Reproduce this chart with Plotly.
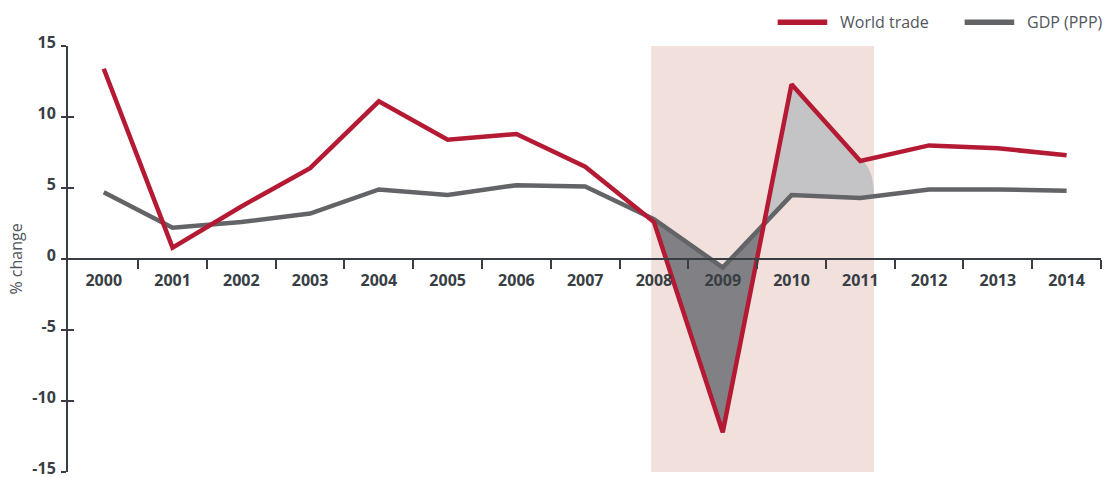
import numpy as np
import plotly.graph_objects as go

# Annual growth, % change
years = list(range(2000, 2015))
world_trade = [13.4, 0.8, 3.7, 6.4, 11.1, 8.4, 8.8, 6.5, 2.6, -12.2, 12.3, 6.9, 8.0, 7.8, 7.3]
gdp_ppp = [4.7, 2.2, 2.6, 3.2, 4.9, 4.5, 5.2, 5.1, 2.8, -0.6, 4.5, 4.3, 4.9, 4.9, 4.8]
y_ticks = [15, 10, 5, 0, -5, -10, -15]
y_tick_text = ["15", "10", "5", "0", "-5", "-10", "-15"]
crisis_span = (2007.96, 2011.2)

RED = "#b41a33"
GREY = "#636467"
AXIS = "#383e44"
TEXT = "#51565c"

wt = np.array(world_trade)
gd = np.array(gdp_ppp)
yr = np.array(years, dtype=float)

# crossing of the two series between 2009 and 2010
i9, i10, i11 = years.index(2009), years.index(2010), years.index(2011)
d0 = wt[i9] - gd[i9]
d1 = wt[i10] - gd[i10]
t = d0 / (d0 - d1)
x_cross = yr[i9] + t
y_cross = gd[i9] + t * (gd[i10] - gd[i9])

# downturn: trade below GDP from 2008 to the crossing
i8 = years.index(2008)
dark_x = [yr[i8], yr[i9], x_cross, yr[i9], yr[i8]]
dark_y = [gd[i8], gd[i9], y_cross, wt[i9], wt[i8]]

# rebound: trade above GDP from the crossing, closing with a rounded edge
x_end = crisis_span[1]
g_end = gd[i11] + (x_end - yr[i11]) * (gd[i11 + 1] - gd[i11])
theta = np.linspace(0, np.pi / 2, 20)
arc_x = yr[i11] + (x_end - yr[i11]) * np.sin(theta)
arc_y = g_end + (wt[i11] - g_end) * np.cos(theta)
light_x = [x_cross, yr[i10], yr[i11]] + list(arc_x) + [yr[i11], yr[i10], x_cross]
light_y = [y_cross, wt[i10], wt[i11]] + list(arc_y) + [gd[i11], gd[i10], y_cross]

fig = go.Figure()
fig.add_trace(go.Scatter(x=dark_x, y=dark_y, fill="toself", fillcolor="#818185",
                         line=dict(width=0), mode="lines", showlegend=False, hoverinfo="skip"))
fig.add_trace(go.Scatter(x=light_x, y=light_y, fill="toself", fillcolor="#c4c3c6",
                         line=dict(width=0), mode="lines", showlegend=False, hoverinfo="skip"))
fig.add_trace(go.Scatter(x=years, y=gdp_ppp, mode="lines", name="GDP (PPP)",
                         line=dict(color=GREY, width=4.5), showlegend=False))
fig.add_trace(go.Scatter(x=years, y=world_trade, mode="lines", name="World trade",
                         line=dict(color=RED, width=4.5), showlegend=False))
# invisible trace that carries the inner half of the crossing y ticks
fig.add_trace(go.Scatter(x=[years[0]], y=[0], yaxis="y2", mode="markers",
                         marker=dict(opacity=0), showlegend=False, hoverinfo="skip"))

fig.add_shape(type="rect", xref="x", yref="y", x0=crisis_span[0], x1=crisis_span[1],
              y0=-15, y1=15, fillcolor="#f2e0dd", line=dict(width=0), layer="below")

# legend: line sample + label, laid out in paper coordinates above the plot
legend_items = [("World trade", RED, 0.687), ("GDP (PPP)", GREY, 0.868)]
for label, color, x0 in legend_items:
    fig.add_shape(type="line", xref="paper", yref="paper", x0=x0, x1=x0 + 0.048,
                  y0=1.056, y1=1.056, line=dict(color=color, width=5.5))
    fig.add_annotation(xref="paper", yref="paper", x=x0 + 0.058, y=1.056,
                       xanchor="left", yanchor="middle", text=label, showarrow=False,
                       font=dict(size=16, color=TEXT, family="Open Sans"))

fig.update_layout(
    width=1107, height=477,
    margin=dict(l=68, r=6, t=46, b=5),
    paper_bgcolor="white", plot_bgcolor="white",
    font=dict(family="Open Sans", color=TEXT),
    showlegend=False,
    xaxis=dict(
        range=[1999.48, 2014.5], tickmode="array", tickvals=years,
        ticktext=[str(y) for y in years], ticks="", showgrid=False, zeroline=False,
        showline=True, linecolor=AXIS, linewidth=2, automargin=False,
        anchor="free", position=0.5, ticklabelstandoff=7,
        tickfont=dict(size=16, color=AXIS, family="Open Sans", weight="bold"),
        minor=dict(tickmode="array", tickvals=[y + 0.5 for y in years[:-1]] + [2014.5],
                   ticks="outside", ticklen=9, tickwidth=2, tickcolor=AXIS, showgrid=False),
    ),
    yaxis=dict(
        range=[-15, 15], tickmode="array", tickvals=y_ticks, ticktext=y_tick_text,
        ticks="outside", ticklen=5, tickwidth=2, tickcolor=AXIS,
        showline=True, linecolor=AXIS, linewidth=2, showgrid=False, zeroline=False,
        tickfont=dict(size=16, color=AXIS, family="Open Sans", weight="bold"),
        ticklabelstandoff=2, ticklabelshift=-4, ticklabeloverflow="allow", automargin=False,
        title=dict(text="% change", font=dict(size=16, color=TEXT), standoff=6),
    ),
    yaxis2=dict(
        range=[-15, 15], overlaying="y", side="left", anchor="x",
        tickmode="array", tickvals=y_ticks, ticks="inside", ticklen=6, tickwidth=2,
        tickcolor=AXIS, showticklabels=False, showgrid=False, zeroline=False,
        showline=False, automargin=False,
    ),
)

fig.write_html("out.html")
